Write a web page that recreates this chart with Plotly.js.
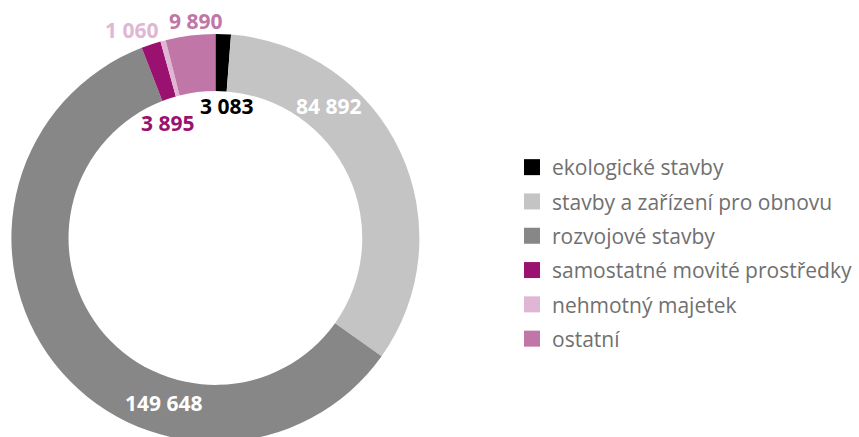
<!DOCTYPE html>
<html>
<head>
<meta charset="utf-8">
<script src="https://cdn.plot.ly/plotly-3.0.1.min.js"></script>
<style>
  body { margin: 0; background: #fff; }
  #wrap { width: 859px; height: 437px; overflow: hidden; }
</style>
</head>
<body>
<div id="wrap"><div id="chart"></div></div>
<script>
// Data
const categories = ['ekologické stavby', 'stavby a zařízení pro obnovu', 'rozvojové stavby',
    'samostatné movité prostředky', 'nehmotný majetek', 'ostatní'];
const values = [3083, 84892, 149648, 3895, 1060, 9890];

// Styles
const sliceColors = ['#000000', '#c4c4c4', '#878787', '#9b1170', '#dfb7d4', '#c076a6'];
const labelColors = ['#000000', '#ffffff', '#ffffff', '#9b1170', '#dfb7d4', '#c076a6'];
// label centres in pixels (hand placed like the original)
const labelX = [226, 329, 164, 167, 131, 195];
const labelY = [106, 106, 403, 123, 30, 21];

const W = 859, H = 476;
const fmt = v => v.toLocaleString('en-US').replace(/,/g, '\u00a0');

const pie = {
    type: 'pie',
    labels: categories,
    values: values,
    sort: false,
    direction: 'clockwise',
    rotation: 0,
    hole: 0.72,
    marker: { colors: sliceColors, line: { width: 0 } },
    textinfo: 'none',
    hoverinfo: 'label+value',
    showlegend: false,
    domain: { x: [0, 430.8 / W], y: [34 / H, 442 / H] }
};

// legend entries
const legendTraces = categories.map((c, i) => ({
    type: 'scatter',
    mode: 'markers',
    x: [null], y: [null],
    name: c,
    legendgroup: 'g' + i,
    marker: { symbol: 'square', size: 18, color: sliceColors[i] },
    hoverinfo: 'skip'
}));

const annotations = values.map((v, i) => ({
    x: labelX[i] / W,
    y: 1 - labelY[i] / H,
    xref: 'paper', yref: 'paper',
    xanchor: 'center', yanchor: 'middle',
    text: '<b>' + fmt(v) + '</b>',
    showarrow: false,
    font: { family: 'Open Sans', size: 21, color: labelColors[i] }
}));

const layout = {
    width: W,
    height: H,
    margin: { l: 0, r: 0, t: 0, b: 0 },
    paper_bgcolor: '#ffffff',
    plot_bgcolor: '#ffffff',
    xaxis: { visible: false },
    yaxis: { visible: false },
    showlegend: true,
    legend: {
        x: 512 / W,
        y: 1 - 147 / H,
        xanchor: 'left',
        yanchor: 'top',
        traceorder: 'grouped',
        tracegroupgap: 4,
        font: { family: 'Open Sans', size: 21, color: '#707070' }
    },
    annotations: annotations
};

Plotly.newPlot('chart', [pie].concat(legendTraces), layout, { displayModeBar: false, staticPlot: true });
</script>
</body>
</html>
